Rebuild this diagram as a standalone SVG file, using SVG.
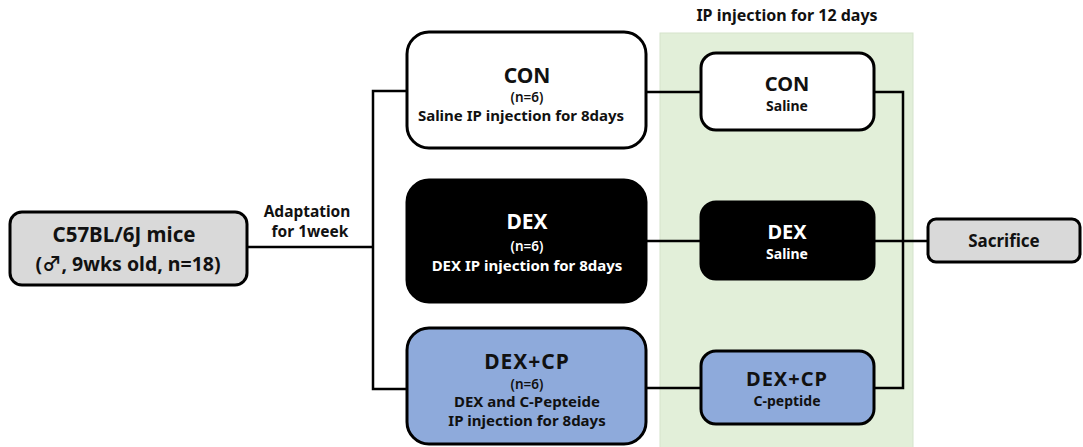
<svg xmlns="http://www.w3.org/2000/svg" width="1083" height="447" viewBox="0 0 1083 447">
  <style>
    text { font-family: "Noto Sans", "Noto Sans CJK KR", sans-serif; font-weight: bold; text-anchor: middle; fill: #111; }
    .box { stroke: #000; stroke-width: 3; }
    .grey { fill: #d9d9d9; }
    .white { fill: #fff; }
    .black { fill: #000; }
    .blue { fill: #8eaadb; }
    .inv { fill: #fff; }
    .wire { fill: none; stroke: #000; stroke-width: 2.5; }
    .t-big { font-size: 21px; }
    .t-wide { letter-spacing: 1px; }
    .t-mid { font-size: 20px; }
    .t-n { font-size: 13.5px; font-weight: 600; }
    .t-sm { font-size: 14px; }
    .t-txt { font-size: 15px; }
  </style>

  <!-- 12-day injection period panel -->
  <g id="injection-panel">
    <rect x="660" y="33" width="253" height="420" fill="#e2efd9" stroke="#d5e3cc" stroke-width="1"/>
    <text x="787" y="21" style="font-size:16px">IP injection for 12 days</text>
  </g>

  <!-- connectors -->
  <g id="connectors" class="wire">
    <path d="M247 247 H373"/>
    <path d="M407 91 H373 V389 H407"/>
    <path d="M646 92 H701"/>
    <path d="M646 241 H701"/>
    <path d="M646 388 H701"/>
    <path d="M874 92 H903 V388 H874"/>
    <path d="M874 241 H928"/>
  </g>

  <g id="mice">
    <rect class="box grey" x="10" y="212" width="237" height="73" rx="12"/>
    <text x="124" y="242" style="font-size:20.5px">C57BL/6J mice</text>
    <text x="128" y="271" style="font-size:19.5px">(♂, 9wks old, n=18)</text>
  </g>

  <g id="adaptation-label">
    <text x="307" y="217" style="font-size:15.5px">Adaptation</text>
    <text x="310" y="237" style="font-size:15.5px">for 1week</text>
  </g>

  <g id="con-group">
    <rect class="box white" x="407" y="32" width="239" height="116" rx="22"/>
    <text class="t-big" x="527" y="83">CON</text>
    <text class="t-n" x="527" y="102">(n=6)</text>
    <text class="t-txt" x="521" y="121">Saline IP injection for 8days</text>
  </g>

  <g id="dex-group">
    <rect class="box black" x="407" y="180" width="239" height="122" rx="22"/>
    <text class="t-big inv" x="527" y="229">DEX</text>
    <text class="t-n inv" x="527" y="251">(n=6)</text>
    <text class="t-txt inv" x="527" y="271">DEX IP injection for 8days</text>
  </g>

  <g id="dexcp-group">
    <rect class="box blue" x="407" y="328" width="239" height="116" rx="22"/>
    <text class="t-big t-wide" x="527" y="369">DEX+CP</text>
    <text class="t-n" x="527" y="389">(n=6)</text>
    <text class="t-txt" x="527" y="407">DEX and C-Pepteide</text>
    <text class="t-txt" x="527" y="426">IP injection for 8days</text>
  </g>

  <g id="con-treat">
    <rect class="box white" x="701" y="53" width="173" height="77" rx="15"/>
    <text class="t-mid" x="787" y="91">CON</text>
    <text class="t-sm" x="787" y="111">Saline</text>
  </g>

  <g id="dex-treat">
    <rect class="box black" x="701" y="202" width="173" height="77" rx="15"/>
    <text class="t-mid inv" x="787" y="239">DEX</text>
    <text class="t-sm inv" x="787" y="259">Saline</text>
  </g>

  <g id="dexcp-treat">
    <rect class="box blue" x="701" y="351" width="173" height="73" rx="15"/>
    <text class="t-mid t-wide" x="787" y="386">DEX+CP</text>
    <text class="t-sm" x="787" y="406">C-peptide</text>
  </g>

  <g id="sacrifice">
    <rect class="box grey" x="928" y="219" width="152" height="43" rx="8"/>
    <text x="1004" y="247" style="font-size:17px">Sacrifice</text>
  </g>
</svg>
